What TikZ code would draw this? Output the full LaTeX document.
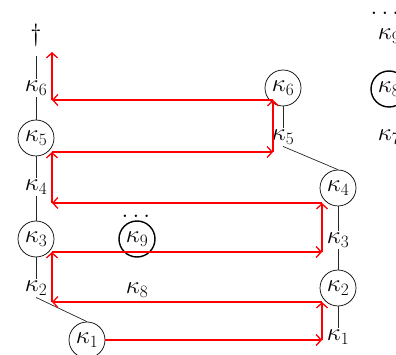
\documentclass[tikz,border=0pt]{standalone}
\usetikzlibrary{arrows.meta}
\begin{document}
\begin{tikzpicture}[x=1pt,y=-1pt,
  lab/.style={inner sep=2pt, font=\fontsize{25}{29}\selectfont},
  cnode/.style={circle, draw, minimum size=36pt, inner sep=0pt, line width=0.7pt, font=\fontsize{25}{29}\selectfont},
  thicknode/.style={cnode, line width=1.4pt},
  tree/.style={draw=black!85, line width=0.7pt},
  flow/.style={draw=red, line width=1.3pt, -{Straight Barb[length=5pt,width=11pt]}}
]
\useasboundingbox (0,0) rectangle (396,355);
\clip (0,0) rectangle (396,355);

% left column
\node[lab] (dag) at (36,35) {$\dagger$};
\node[lab] (l6) at (36,88) {$\kappa_6$};
\node[cnode] (l5) at (36,138) {$\kappa_5$};
\node[lab] (l4) at (36,187) {$\kappa_4$};
\node[cnode] (l3) at (36,239) {$\kappa_3$};
\node[lab] (l2) at (36,288) {$\kappa_2$};
\node[cnode] (l1) at (87,340) {$\kappa_1$};

% right column
\node[cnode] (r6) at (283,88) {$\kappa_6$};
\node[lab] (r5) at (283,137) {$\kappa_5$};
\node[cnode] (r4) at (338,188) {$\kappa_4$};
\node[lab] (r3) at (338,240) {$\kappa_3$};
\node[cnode] (r2) at (338,288) {$\kappa_2$};
\node[lab] (r1) at (338,337) {$\kappa_1$};

% middle
\node[lab] (m9d) at (136,216) {$\ldots$};
\node[thicknode] (m9) at (137,239) {$\kappa_9$};
\node[lab] (m8) at (137,290) {$\kappa_8$};

% far right
\node[lab, inner sep=0pt] (f9d) at (385,13) {$\ldots$};
\node[lab] (f9) at (389,36) {$\kappa_9$};
\node[thicknode] (f8) at (389,89) {$\kappa_8$};
\node[lab] (f7) at (389,137) {$\kappa_7$};

% tree edges
\draw[tree, shorten <=8pt] (dag) -- (l6);
\draw[tree] (l6) -- (l5);
\draw[tree] (l5) -- (l4);
\draw[tree] (l4) -- (l3);
\draw[tree] (l3) -- (l2);
\draw[tree] (l2.south) -- (l1.north);
\draw[tree] (r6) -- (r5);
\draw[tree] (r5.south) -- (r4.north);
\draw[tree] (r4) -- (r3);
\draw[tree] (r3) -- (r2);
\draw[tree] (r2) -- (r1);

% red flow
\coordinate (a1) at (322,340);
\coordinate (a2) at (322,302);
\coordinate (a3) at (52,302);
\coordinate (a4) at (52,252);
\coordinate (a5) at (322,252);
\coordinate (a6) at (322,203);
\coordinate (a7) at (52,203);
\coordinate (a8) at (52,152);
\coordinate (a9) at (273,152);
\coordinate (a10) at (273,100);
\coordinate (a11) at (52,100);
\coordinate (a12) at (52,52);
\draw[flow] (l1) -- (a1);
\draw[flow] (a1) -- (a2);
\draw[flow] (a2) -- (a3);
\draw[flow] (a3) -- (a4);
\draw[flow] (a4) -- (a5);
\draw[flow] (a5) -- (a6);
\draw[flow] (a6) -- (a7);
\draw[flow] (a7) -- (a8);
\draw[flow] (a8) -- (a9);
\draw[flow] (a9) -- (a10);
\draw[flow] (a10) -- (a11);
\draw[flow] (a11) -- (a12);
\end{tikzpicture}
\end{document}
